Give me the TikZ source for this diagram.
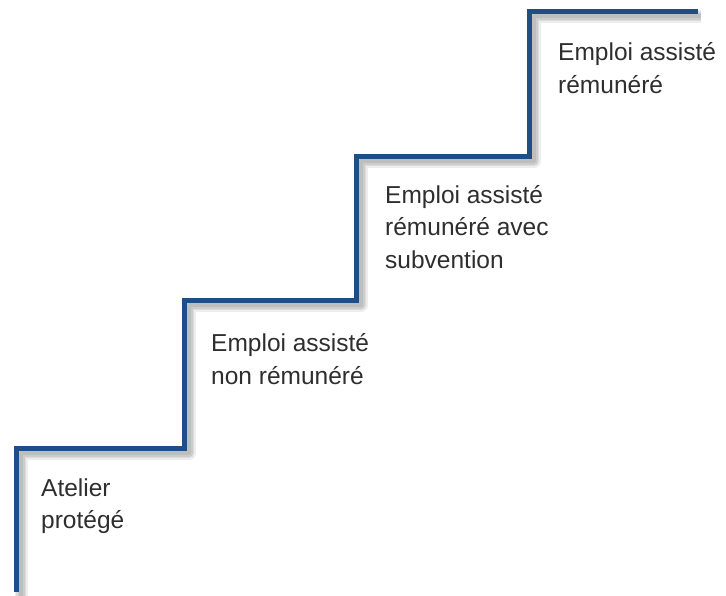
\documentclass[tikz,border=0pt]{standalone}
\usepackage{fontspec}
\setmainfont{Liberation Sans}
\usepackage{tikz}
\definecolor{stairblue}{HTML}{1F4E87}
\tikzset{
    stair/.style={line width=5pt, draw=stairblue, line join=miter},
    shade/.style={line width=#1, draw=black, opacity=0.07, line join=round},
    step label/.style={anchor=west, align=left, font=\fontsize{24.5}{32.5}\selectfont, text=black!82, inner sep=0pt}
}
\begin{document}
\begin{tikzpicture}[x=1pt, y=-1pt]
        \useasboundingbox (0, 0) rectangle (726, 595);
        % soft shadow behind the stairs
        \foreach \w in {4, 7, 10, 13}
            \draw [shade=\w pt, shift={(5, 5)}] (16, 592) -- (16, 448) -- (184, 448) -- (184, 300) -- (356, 300) -- (356, 156) -- (529, 156) -- (529, 11) -- (696, 11);
        % stairs
        \draw [stair] (16, 592) -- (16, 448) -- (184, 448) -- (184, 300) -- (356, 300) -- (356, 156) -- (529, 156) -- (529, 11) -- (698, 11);
        \node (atelier) at (41, 506) [step label] {Atelier\\protégé};
        \node (nonrem) at (211, 359) [step label] {Emploi assisté\\non rémunéré};
        \node (subv) at (385, 227) [step label] {Emploi assisté\\rémunéré avec\\subvention};
        \node (rem) at (558, 68) [step label] {Emploi assisté\\rémunéré};
    \end{tikzpicture}
\end{document}
